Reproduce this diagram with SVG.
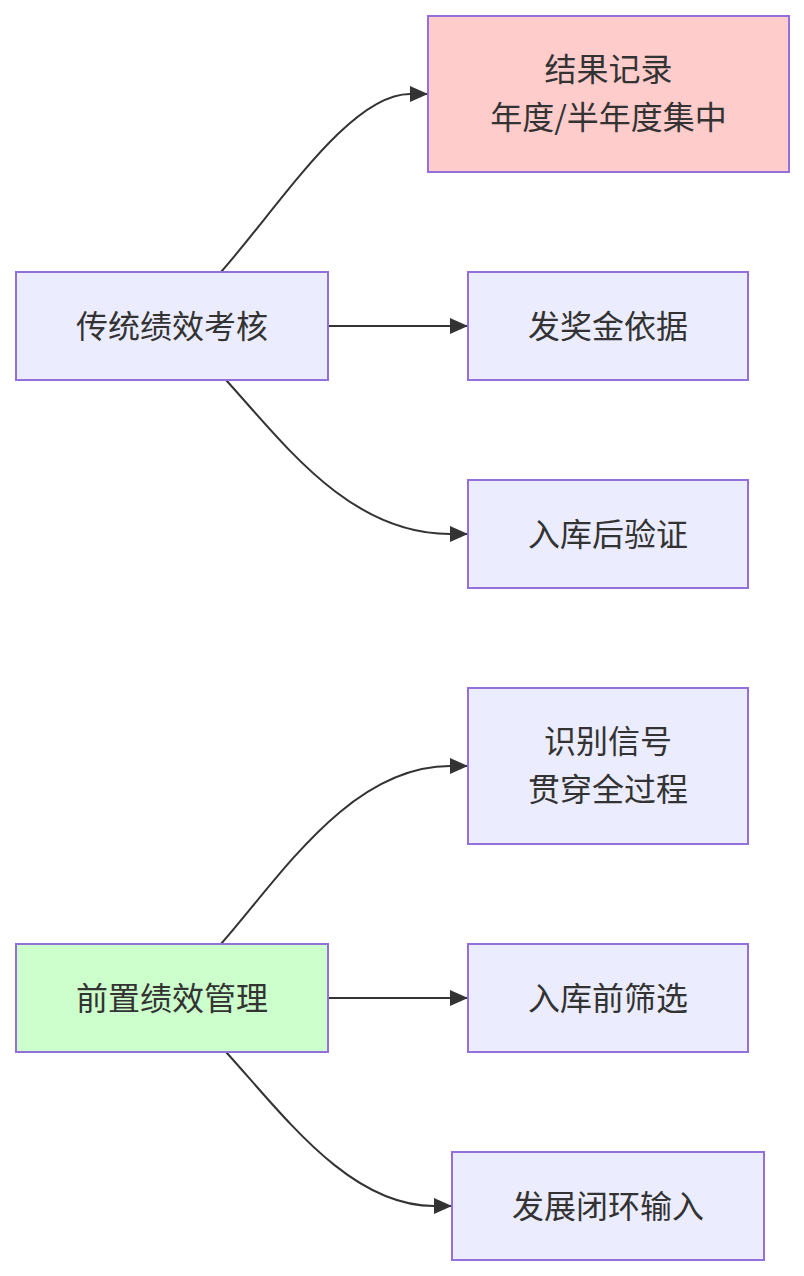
<svg xmlns="http://www.w3.org/2000/svg" width="804" height="1276" viewBox="0 0 804 1276">
<style>
.node rect{fill:#ECECFF;stroke:#9370DB;stroke-width:2}
.node.pink rect{fill:#FFCCCC}
.node.green rect{fill:#CCFFCC}
.node text{font-family:"Noto Sans CJK SC","Liberation Sans",sans-serif;font-size:32px;fill:#333333;text-anchor:middle;dominant-baseline:central}
.edges path{fill:none;stroke:#333333;stroke-width:2}
</style>
<defs>
<marker id="arrow" markerUnits="userSpaceOnUse" markerWidth="18" markerHeight="16" refX="18" refY="8" orient="auto" viewBox="0 0 18 16">
<path d="M0,0 L18,8 L0,16 z" fill="#333333"/>
</marker>
</defs>
<rect width="804" height="1276" fill="#FFFFFF"/>
<g class="edges">
<path d="M221,272 C280,205 350,94 410,94 L428,94" marker-end="url(#arrow)"/>
<path d="M328,326 L468,326" marker-end="url(#arrow)"/>
<path d="M226,380 C285,445 350,534 450,534 L468,534" marker-end="url(#arrow)"/>
<path d="M221,944 C280,877 350,766 450,766 L468,766" marker-end="url(#arrow)"/>
<path d="M328,998 L468,998" marker-end="url(#arrow)"/>
<path d="M226,1052 C285,1117 350,1206 434,1206 L452,1206" marker-end="url(#arrow)"/>
</g>
<g id="A" class="node"><rect x="16" y="272" width="312" height="108"/><text x="172" y="324">传统绩效考核</text></g>
<g id="B" class="node pink"><rect x="428" y="16" width="361" height="156"/><text x="608.5" y="67">结果记录</text><text x="608.5" y="115">年度/半年度集中</text></g>
<g id="C" class="node"><rect x="468" y="272" width="280" height="108"/><text x="608" y="324">发奖金依据</text></g>
<g id="D" class="node"><rect x="468" y="480" width="280" height="108"/><text x="608" y="532">入库后验证</text></g>
<g id="E" class="node green"><rect x="16" y="944" width="312" height="108"/><text x="172" y="996">前置绩效管理</text></g>
<g id="F" class="node"><rect x="468" y="688" width="280" height="156"/><text x="608" y="739">识别信号</text><text x="608" y="787">贯穿全过程</text></g>
<g id="G" class="node"><rect x="468" y="944" width="280" height="108"/><text x="608" y="996">入库前筛选</text></g>
<g id="H" class="node"><rect x="452" y="1152" width="312" height="108"/><text x="608" y="1204">发展闭环输入</text></g>
</svg>
